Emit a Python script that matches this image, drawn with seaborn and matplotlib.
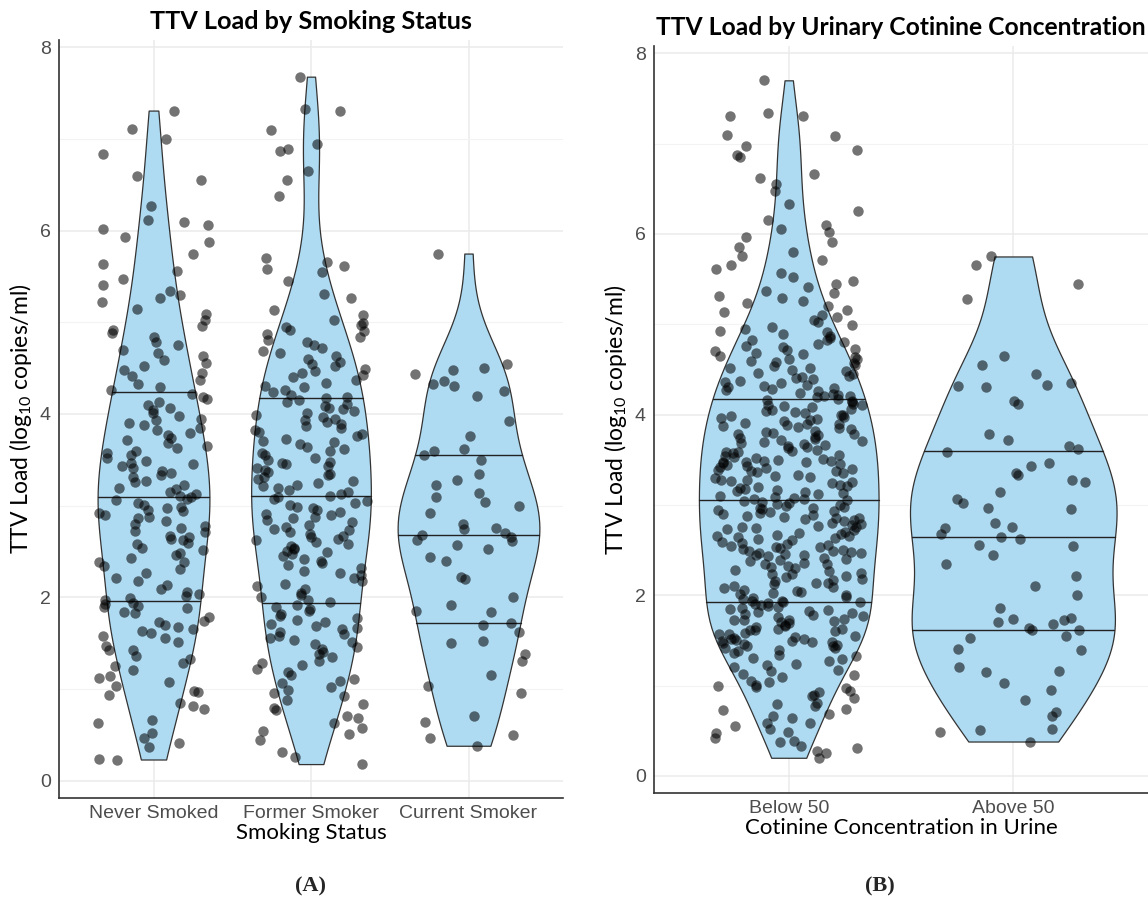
import numpy as np
import pandas as pd
import seaborn as sns
import matplotlib.pyplot as plt

never_smoked = [
    0.23, 0.24, 0.37, 0.41, 0.47, 0.52, 0.63, 0.66, 0.78, 0.81, 0.85, 0.93, 0.97, 0.98,
    1.03, 1.08, 1.12, 1.14, 1.21, 1.25, 1.28, 1.33, 1.36, 1.42, 1.43, 1.47,
    1.51, 1.56, 1.58, 1.61, 1.63, 1.65, 1.68, 1.70, 1.73, 1.74, 1.78, 1.83, 1.84, 1.88,
    1.89, 1.91, 1.93, 1.94, 1.97, 1.99,
    2.01, 2.04, 2.06, 2.09, 2.13, 2.18, 2.21, 2.27, 2.31, 2.34, 2.38, 2.39, 2.43, 2.46, 2.48,
    2.52, 2.54, 2.58, 2.59, 2.62, 2.64, 2.66, 2.67, 2.71, 2.72, 2.76, 2.78, 2.80, 2.83,
    2.86, 2.88, 2.90, 2.92, 2.94, 2.95, 2.97, 2.99,
    3.01, 3.03, 3.06, 3.07, 3.09, 3.11, 3.13, 3.15, 3.18, 3.19, 3.23, 3.26, 3.27, 3.31,
    3.33, 3.36, 3.38, 3.41, 3.43, 3.45, 3.47, 3.49,
    3.52, 3.55, 3.57, 3.60, 3.63, 3.65, 3.68, 3.72, 3.74, 3.77, 3.79, 3.82, 3.85, 3.88,
    3.90, 3.93, 3.95, 3.98,
    4.01, 4.04, 4.07, 4.10, 4.13, 4.16, 4.19, 4.22, 4.26, 4.29, 4.33, 4.37, 4.41, 4.45, 4.48,
    4.52, 4.56, 4.59, 4.63, 4.67, 4.70, 4.75, 4.79, 4.84, 4.88, 4.92, 4.96,
    5.03, 5.09, 5.15, 5.22, 5.26, 5.30, 5.34, 5.41, 5.47,
    5.56, 5.64, 5.75, 5.88, 5.93, 6.02, 6.06, 6.09, 6.12, 6.27,
    6.55, 6.60, 6.84, 7.00, 7.11, 7.31,
]
former_smoker = [
    0.18, 0.26, 0.31, 0.44, 0.51, 0.54, 0.57, 0.63, 0.68, 0.71, 0.77, 0.79, 0.84, 0.88,
    0.92, 0.96, 0.99,
    1.02, 1.06, 1.09, 1.11, 1.15, 1.18, 1.22, 1.26, 1.28, 1.31, 1.35, 1.38, 1.40, 1.44,
    1.46, 1.49,
    1.51, 1.53, 1.56, 1.58, 1.60, 1.62, 1.65, 1.66, 1.69, 1.71, 1.73, 1.75, 1.77, 1.80,
    1.82, 1.85, 1.87, 1.89,
    1.92, 1.95, 1.97, 2.00, 2.03, 2.05, 2.09, 2.12, 2.15, 2.18, 2.21, 2.24, 2.27, 2.29,
    2.32, 2.35, 2.37, 2.40, 2.42, 2.45, 2.47, 2.49,
    2.51, 2.53, 2.54, 2.56, 2.58, 2.60, 2.62, 2.64, 2.66, 2.67, 2.69, 2.71, 2.73, 2.75,
    2.77, 2.79, 2.82, 2.84, 2.86, 2.88, 2.90, 2.91, 2.93, 2.95, 2.97, 2.99,
    3.01, 3.03, 3.05, 3.07, 3.09, 3.11, 3.13, 3.15, 3.17, 3.19, 3.21, 3.23, 3.25, 3.27,
    3.29, 3.31, 3.33, 3.35, 3.37, 3.39, 3.41, 3.43, 3.45, 3.46, 3.48, 3.50,
    3.52, 3.55, 3.57, 3.60, 3.62, 3.64, 3.67, 3.69, 3.71, 3.73, 3.76, 3.78, 3.80, 3.83,
    3.85, 3.87, 3.89, 3.91, 3.93, 3.95, 3.97, 3.99,
    4.01, 4.03, 4.05, 4.07, 4.09, 4.11, 4.13, 4.15, 4.17, 4.19, 4.21, 4.24, 4.26, 4.29,
    4.31, 4.34, 4.37, 4.40, 4.42, 4.45, 4.47, 4.49,
    4.52, 4.55, 4.57, 4.60, 4.63, 4.66, 4.69, 4.72, 4.75, 4.78, 4.81, 4.84, 4.87, 4.90,
    4.92, 4.95, 4.97, 4.99,
    5.03, 5.08, 5.13, 5.27, 5.31, 5.45, 5.55, 5.58, 5.61, 5.66, 5.70,
    6.38, 6.55, 6.65, 6.87, 6.89, 6.94, 7.10, 7.30, 7.33, 7.68,
]
current_smoker = [
    0.38, 0.47, 0.50, 0.64, 0.70, 0.96, 1.03, 1.15, 1.30, 1.38, 1.50, 1.52, 1.62, 1.70, 1.72,
    1.84, 1.85, 1.92, 2.00, 2.20, 2.22, 2.40, 2.44, 2.53, 2.57, 2.61, 2.63, 2.66, 2.68, 2.70,
    2.74, 2.76, 2.80, 2.92, 3.00, 3.04, 3.09, 3.14, 3.23, 3.28, 3.34, 3.50, 3.55, 3.60, 3.62,
    3.76, 3.92, 4.20, 4.25, 4.31, 4.33, 4.36, 4.44, 4.48, 4.50, 4.54, 5.75,
]
below_50 = [
    0.20, 0.25, 0.27, 0.31, 0.33, 0.38, 0.39, 0.42, 0.47, 0.48, 0.52, 0.55, 0.58, 0.59,
    0.64, 0.66, 0.69, 0.73, 0.74, 0.77, 0.80, 0.81, 0.86, 0.88, 0.89, 0.93, 0.94, 0.97,
    0.98, 0.99,
    1.01, 1.04, 1.05, 1.09, 1.12, 1.13, 1.16, 1.17, 1.21, 1.23, 1.24, 1.27, 1.29, 1.30,
    1.33, 1.34, 1.36, 1.38, 1.39, 1.41, 1.42, 1.44, 1.44, 1.45, 1.46, 1.47, 1.48, 1.48,
    1.49, 1.49,
    1.50, 1.51, 1.51, 1.53, 1.54, 1.55, 1.57, 1.57, 1.58, 1.60, 1.61, 1.62, 1.63, 1.63,
    1.65, 1.66, 1.67, 1.69, 1.70, 1.71, 1.72, 1.73, 1.73, 1.74, 1.76, 1.77, 1.78, 1.79,
    1.80, 1.81, 1.83, 1.84, 1.85, 1.86, 1.87, 1.88, 1.89, 1.90, 1.91, 1.92,
    1.93, 1.94, 1.94, 1.96, 1.97, 1.98, 2.00, 2.01, 2.02, 2.04, 2.05, 2.06, 2.08, 2.09,
    2.10, 2.12, 2.13, 2.14, 2.16, 2.17, 2.18, 2.20, 2.21, 2.23, 2.24, 2.25, 2.27, 2.28,
    2.30, 2.31, 2.32, 2.34, 2.35, 2.36, 2.38, 2.39, 2.40, 2.41, 2.43, 2.44, 2.45, 2.46,
    2.47, 2.47, 2.48, 2.49, 2.49, 2.50,
    2.51, 2.52, 2.53, 2.53, 2.55, 2.56, 2.57, 2.58, 2.59, 2.61, 2.62, 2.63, 2.64, 2.65,
    2.66, 2.67, 2.68, 2.69, 2.70, 2.72, 2.73, 2.74, 2.75, 2.76, 2.77, 2.78, 2.79, 2.80,
    2.82, 2.83, 2.84, 2.85, 2.86, 2.87, 2.88, 2.89, 2.90, 2.91, 2.92, 2.93, 2.94, 2.95,
    2.96, 2.97, 2.98, 2.99, 3.00, 3.01, 3.02, 3.03, 3.04, 3.05,
    3.06, 3.07, 3.08, 3.09, 3.10, 3.12, 3.13, 3.14, 3.15, 3.16, 3.18, 3.19, 3.20, 3.21,
    3.22, 3.24, 3.25, 3.26, 3.27, 3.28, 3.30, 3.31, 3.32, 3.33, 3.35, 3.36, 3.37, 3.38,
    3.39, 3.40, 3.41, 3.42, 3.43, 3.44, 3.45, 3.46, 3.47, 3.47, 3.48, 3.49, 3.49, 3.50,
    3.51, 3.52, 3.53, 3.54, 3.55, 3.57, 3.58, 3.59, 3.60, 3.61, 3.63, 3.64, 3.65, 3.66,
    3.67, 3.68, 3.70, 3.71, 3.72, 3.73, 3.74, 3.75, 3.77, 3.78, 3.79, 3.80, 3.81, 3.82,
    3.84, 3.85, 3.86, 3.87, 3.88, 3.89, 3.90, 3.91, 3.93, 3.94, 3.95, 3.96, 3.97, 3.98,
    3.99, 4.00, 4.02, 4.03, 4.04, 4.05, 4.06, 4.08, 4.09, 4.10, 4.11, 4.12, 4.14, 4.15,
    4.16, 4.17,
    4.19, 4.20, 4.21, 4.22, 4.23, 4.24, 4.26, 4.27, 4.28, 4.29, 4.31, 4.32, 4.33, 4.35,
    4.36, 4.37, 4.39, 4.40, 4.42, 4.43, 4.45, 4.46, 4.48, 4.49,
    4.51, 4.52, 4.54, 4.55, 4.57, 4.58, 4.59, 4.61, 4.62, 4.64, 4.65, 4.67, 4.68, 4.70,
    4.71, 4.73, 4.75, 4.76, 4.78, 4.80, 4.82, 4.83, 4.85, 4.87, 4.89, 4.91, 4.93, 4.95,
    4.97, 4.99,
    5.02, 5.05, 5.08, 5.10, 5.13, 5.16, 5.20, 5.23, 5.26, 5.29, 5.31, 5.34, 5.37, 5.41,
    5.45, 5.48, 5.52, 5.57, 5.61, 5.66, 5.71, 5.75, 5.80, 5.86, 5.91, 5.97,
    6.02, 6.05, 6.10, 6.15, 6.25, 6.33, 6.47, 6.55, 6.62, 6.66, 6.85, 6.87, 6.93, 6.97,
    7.08, 7.10, 7.30, 7.31, 7.34, 7.70,
]
above_50 = [
    0.38, 0.48, 0.51, 0.52, 0.66, 0.71, 0.84, 0.95, 1.03, 1.15, 1.16, 1.70, 1.21, 1.39,
    1.40, 1.68, 1.53, 1.55, 1.61, 1.62, 1.64,
    1.72, 1.74, 1.75, 1.86, 2.00, 2.10, 2.21, 2.34, 2.44, 2.55, 2.56, 2.62, 2.64, 2.68,
    2.74, 2.75, 2.80, 2.95, 2.97, 3.02, 3.06, 3.14, 3.25, 3.28, 3.33, 3.35, 3.43, 3.46,
    3.58, 3.62, 3.65, 3.72, 3.78, 4.12, 4.15, 4.30, 4.32, 4.33, 4.35, 4.45, 4.55, 4.65,
    5.28, 5.45, 5.65, 5.75,
]

smoking_order = ["Never Smoked", "Former Smoker", "Current Smoker"]
cotinine_order = ["Below 50", "Above 50"]
# widest part of each violin, as a share of the category spacing
smoking_widths = [0.71, 0.76, 0.90]
cotinine_widths = [0.80, 0.92]

df_a = pd.concat([
    pd.DataFrame({"status": name, "ttv": vals})
    for name, vals in zip(smoking_order, [never_smoked, former_smoker, current_smoker])
])
df_b = pd.concat([
    pd.DataFrame({"cotinine": name, "ttv": vals})
    for name, vals in zip(cotinine_order, [below_50, above_50])
])

sns.set_theme(style="white")
plt.rcParams["mathtext.fontset"] = "custom"
plt.rcParams["mathtext.rm"] = "Lato"
plt.rcParams["mathtext.it"] = "Lato:italic"

np.random.seed(11)
fill = "#AEDAF2"

fig = plt.figure(figsize=(11.48, 9.01), dpi=100)
ax_a = fig.add_axes([59 / 1148, 1 - 798 / 901, 504 / 1148, 758 / 901])
ax_b = fig.add_axes([654 / 1148, 1 - 793 / 901, 494 / 1148, 747 / 901])

panels = [
    (ax_a, df_a, "status", smoking_order, smoking_widths, 0.36,
     "TTV Load by Smoking Status", "Smoking Status", 18.2),
    (ax_b, df_b, "cotinine", cotinine_order, cotinine_widths, 0.33,
     "TTV Load by Urinary Cotinine Concentration", "Cotinine Concentration in Urine", 17.7),
]

for ax, data, xcol, order, widths, jit, title, xlabel, tsize in panels:
    for name, w in zip(order, widths):
        sns.violinplot(data=data[data[xcol] == name], x=xcol, y="ttv", order=order, ax=ax,
                       color=fill, saturation=1, cut=0, width=w, bw_adjust=0.9,
                       inner="quart",
                       inner_kws={"dashes": [], "color": "#222222", "linewidth": 1.0},
                       linecolor="#333333", linewidth=0.9)
    sns.stripplot(data=data, x=xcol, y="ttv", order=order, ax=ax, color="black", alpha=0.55,
                  size=7.5, jitter=jit, linewidth=0, zorder=3)

    ax.set_xlim(-0.6, len(order) - 0.4)
    ax.set_ylim(-0.19, 8.08)
    ax.set_yticks([0, 2, 4, 6, 8])
    ax.set_yticks([1, 3, 5, 7], minor=True)
    ax.set_axisbelow(True)
    ax.grid(which="major", color="#EBEBEB", linewidth=1.1)
    ax.grid(which="minor", axis="y", color="#F3F3F3", linewidth=0.8)
    for side in ["top", "right"]:
        ax.spines[side].set_visible(False)
    for side in ["left", "bottom"]:
        ax.spines[side].set_color("#333333")
        ax.spines[side].set_linewidth(1.2)
    ax.tick_params(axis="both", which="both", length=0, labelsize=14, labelcolor="#4D4D4D")
    ax.tick_params(axis="x", pad=5)
    ax.tick_params(axis="y", pad=6)
    for lab in ax.get_xticklabels() + ax.get_yticklabels():
        lab.set_family("Liberation Sans")

    ax.set_title(title, fontsize=tsize, fontweight="bold", family="Lato", pad=8, color="black")
    ax.set_xlabel(xlabel, fontsize=16, family="Lato", labelpad=1, color="black")
    ax.set_ylabel(r"TTV Load (log$_{10}$ copies/ml)", fontsize=16.5, family="Lato",
                  labelpad=4, color="black")

fig.text(311 / 1148, 1 - 886 / 901, "(A)", ha="center", va="center", fontsize=16,
         family="Liberation Serif", fontweight="bold")
fig.text(880 / 1148, 1 - 886 / 901, "(B)", ha="center", va="center", fontsize=16,
         family="Liberation Serif", fontweight="bold")

fig.savefig("out.png", dpi=100)
